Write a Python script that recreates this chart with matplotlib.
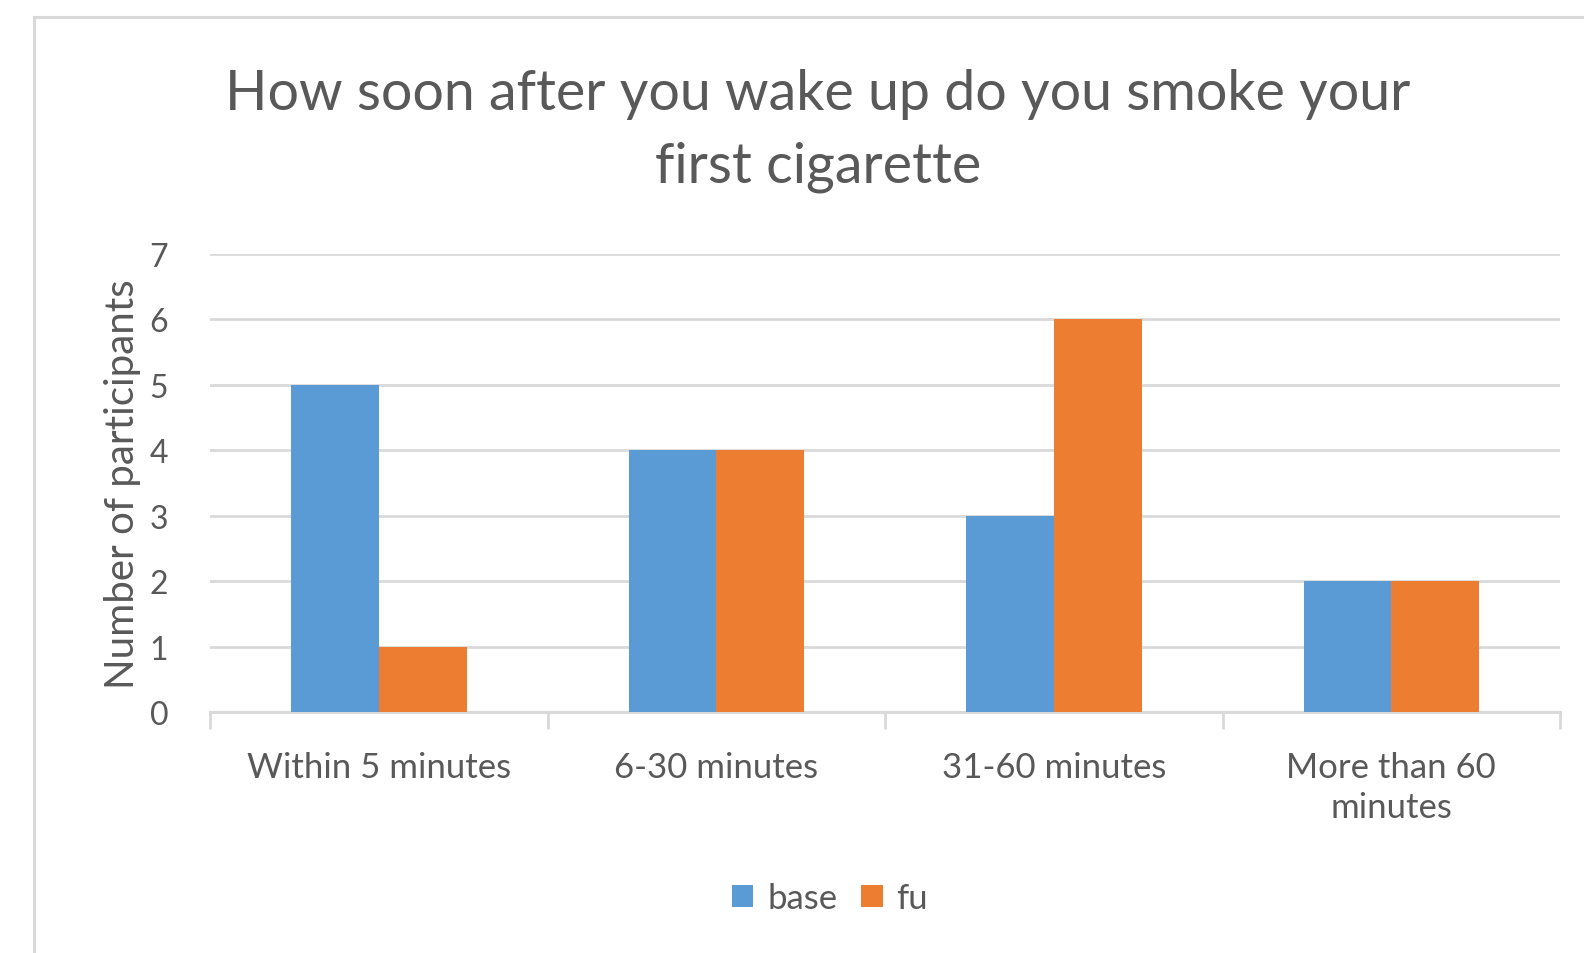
import matplotlib
matplotlib.use("Agg")
import matplotlib.pyplot as plt
import numpy as np
from matplotlib.patches import Rectangle

plt.rcParams['font.family'] = ['Lato', 'DejaVu Sans']

categories = ['Within 5 minutes', '6-30 minutes', '31-60 minutes', 'More than 60\nminutes']
base = [5, 4, 3, 2]
fu = [1, 4, 6, 2]
yticks = [0, 1, 2, 3, 4, 5, 6, 7]

text_gray = '#595959'
grid_gray = '#d9d9d9'
blue = '#5b9bd5'
orange = '#ed7d31'

fig = plt.figure(figsize=(15.84, 9.54), dpi=100)
W, H = 1584, 954

# chart area frame (runs off the right and bottom edge)
fig.patches.append(Rectangle((34 / W, -0.1), 1.2, 1 - 18 / H + 0.1,
                             transform=fig.transFigure, fill=False,
                             edgecolor=grid_gray, linewidth=2.2))

ax = fig.add_axes([210 / W, 1 - 713 / H, (1560 - 210) / W, (713 - 255) / H])

x = np.arange(len(categories))
w = 0.26
ax.bar(x - w / 2, base, width=w, color=blue, label='base', zorder=3)
ax.bar(x + w / 2, fu, width=w, color=orange, label='fu', zorder=3)

ax.set_xlim(-0.5, len(categories) - 0.5)
ax.set_ylim(0, 7)
ax.set_yticks(yticks)
ax.set_yticklabels([str(v) for v in yticks], fontsize=23, color=text_gray)
ax.tick_params(axis='y', length=0, pad=30)
ax.grid(axis='y', color=grid_gray, linewidth=2, zorder=0)

# category boundary ticks under the axis
ax.set_xticks(np.arange(-0.5, len(categories)), minor=False)
ax.set_xticklabels([])
ax.tick_params(axis='x', which='major', length=12, width=2, color=grid_gray)
ax.set_xticks(x, minor=True)
ax.set_xticklabels(categories, minor=True, fontsize=25, color=text_gray,
                   linespacing=1.3)
ax.tick_params(axis='x', which='minor', length=0, pad=28)

for side in ['top', 'right', 'left']:
    ax.spines[side].set_visible(False)
ax.spines['bottom'].set_color(grid_gray)
ax.spines['bottom'].set_linewidth(2.2)

ax.set_ylabel('Number of participants', fontsize=29, color=text_gray, labelpad=6)

fig.text(818 / W, 1 - 131 / H, 'How soon after you wake up do you smoke your\nfirst cigarette',
         ha='center', va='center', fontsize=40, color=text_gray, linespacing=1.52)

ax.legend(loc='center', bbox_to_anchor=(830 / W, 1 - 899 / H),
          bbox_transform=fig.transFigure, ncol=2, frameon=False,
          fontsize=25, labelcolor=text_gray, handlelength=0.62,
          handleheight=0.62, handletextpad=0.4, columnspacing=0.68)

fig.savefig('out.png', dpi=100, facecolor='white')
